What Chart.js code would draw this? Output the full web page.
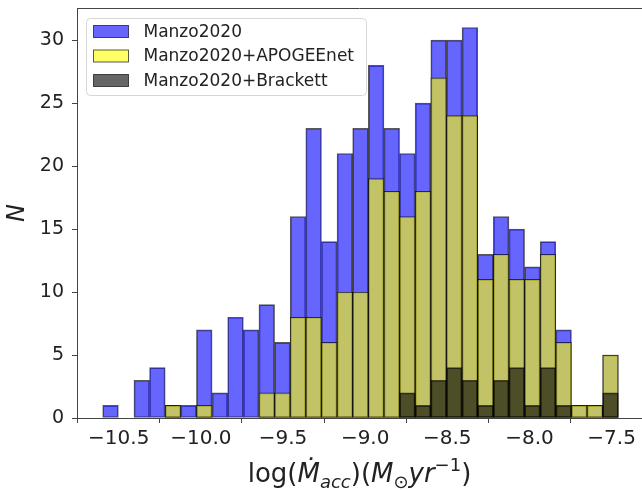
<!DOCTYPE html>
<html>
<head>
<meta charset="utf-8">
<script src="https://cdn.jsdelivr.net/npm/chart.js@4.4.0/dist/chart.umd.min.js"></script>
<style>
  html, body { margin: 0; padding: 0; background: #fff; }
  #chart { display: block; }
</style>
</head>
<body>
<canvas id="chart" width="642" height="491"></canvas>
<script>
// --- Données (histogramme, 33 classes) ---
const binCenters = [-10.5500, -10.4549, -10.3598, -10.2647, -10.1696, -10.0745, -9.9794, -9.8843, -9.7892, -9.6941,
                    -9.5990, -9.5039, -9.4088, -9.3137, -9.2186, -9.1235, -9.0284, -8.9333, -8.8382, -8.7431,
                    -8.6480, -8.5529, -8.4578, -8.3627, -8.2676, -8.1725, -8.0774, -7.9823, -7.8872, -7.7921,
                    -7.6970, -7.6019, -7.5068];
const manzo    = [1, 0, 3, 4, 1, 1, 7, 2, 8, 7, 9, 6, 16, 23, 14, 21, 23, 28, 23, 21, 25, 30, 30, 31, 13, 16, 15, 12, 14, 7, 1, 1, 5];
const apogee   = [0, 0, 0, 0, 1, 0, 1, 0, 0, 0, 2, 2, 8, 8, 6, 10, 10, 19, 18, 16, 18, 27, 24, 24, 11, 13, 11, 11, 13, 6, 1, 1, 5];
const brackett = [0, 0, 0, 0, 0, 0, 0, 0, 0, 0, 0, 0, 0, 0, 0, 0, 0, 0, 0, 2, 1, 3, 4, 3, 1, 3, 4, 1, 4, 1, 0, 0, 2];
const seriesLabels = ['Manzo2020', 'Manzo2020+APOGEEnet', 'Manzo2020+Brackett'];
const xTicks = [-10.5, -10.0, -9.5, -9.0, -8.5, -8.0, -7.5];
const yTicks = [0, 5, 10, 15, 20, 25, 30];

const FONT = '"DejaVu Sans", "Liberation Sans", sans-serif';
const AXIS_COLOR = '#444';

function toPoints(values) {
  return binCenters.map((x, i) => ({ x: x, y: values[i] }));
}

function histDataset(label, values, fill, order) {
  return {
    label: label,
    data: toPoints(values),
    backgroundColor: fill,
    borderColor: 'rgba(0,0,0,0.65)',
    borderWidth: 1,
    borderSkipped: false,
    grouped: false,
    barPercentage: 1,
    categoryPercentage: 1,
    order: order
  };
}

// --- Légende dans le cadre, titres d'axes et bordure du haut ---
const decorPlugin = {
  id: 'decor',
  afterDraw(chart) {
    const ctx = chart.ctx;
    const area = chart.chartArea;

    // bordure du haut
    ctx.save();
    ctx.strokeStyle = AXIS_COLOR;
    ctx.lineWidth = 1;
    ctx.beginPath();
    ctx.moveTo(area.left, area.top + 0.5);
    ctx.lineTo(area.right, area.top + 0.5);
    ctx.stroke();
    ctx.restore();

    // légende
    ctx.save();
    const lx = 86.5, ly = 18.5, lw = 280, lh = 77, r = 4;
    ctx.beginPath();
    ctx.moveTo(lx + r, ly);
    ctx.arcTo(lx + lw, ly, lx + lw, ly + lh, r);
    ctx.arcTo(lx + lw, ly + lh, lx, ly + lh, r);
    ctx.arcTo(lx, ly + lh, lx, ly, r);
    ctx.arcTo(lx, ly, lx + lw, ly, r);
    ctx.closePath();
    ctx.fillStyle = 'rgba(255,255,255,0.8)';
    ctx.fill();
    ctx.strokeStyle = '#d6d6d6';
    ctx.stroke();

    const rows = [31.5, 56, 80.5];
    chart.data.datasets.forEach((ds, i) => {
      const cy = rows[i];
      ctx.fillStyle = '#fff';
      ctx.fillRect(93.5, cy - 6, 35, 12);
      ctx.fillStyle = ds.backgroundColor;
      ctx.fillRect(93.5, cy - 6, 35, 12);
      ctx.strokeStyle = ds.borderColor;
      ctx.strokeRect(93.5, cy - 6, 35, 12);
      ctx.fillStyle = '#222';
      ctx.font = '17px ' + FONT;
      ctx.textAlign = 'left';
      ctx.textBaseline = 'middle';
      ctx.fillText(ds.label, 143.5, cy + 1);
    });
    ctx.restore();

    // titre de l'axe y
    ctx.save();
    ctx.translate(18, (area.top + area.bottom) / 2);
    ctx.rotate(-Math.PI / 2);
    ctx.font = 'italic 24px ' + FONT;
    ctx.fillStyle = '#222';
    ctx.textAlign = 'center';
    ctx.textBaseline = 'middle';
    ctx.fillText('N', 0, 0);
    ctx.restore();

    // titre de l'axe x : log(Ṁ_acc)(M_⊙ yr^-1)
    ctx.save();
    const fs = 26, small = Math.round(fs * 0.7);
    const reg = fs + 'px ' + FONT, ita = 'italic ' + fs + 'px ' + FONT;
    const subI = 'italic ' + small + 'px ' + FONT, sub = small + 'px ' + FONT;
    const parts = [
      { t: 'log(', f: reg, dy: 0 },
      { t: 'Ṁ', f: ita, dy: 0 },
      { t: 'acc', f: subI, dy: 6 },
      { t: ')(', f: reg, dy: 0 },
      { t: 'M', f: ita, dy: 0 },
      { t: '⊙', f: sub, dy: 6 },
      { t: 'yr', f: ita, dy: 0 },
      { t: '−1', f: sub, dy: -11 },
      { t: ')', f: reg, dy: 0 }
    ];
    let total = 0;
    parts.forEach(p => { ctx.font = p.f; p.w = ctx.measureText(p.t).width; total += p.w; });
    let x = (area.left + area.right) / 2 - total / 2;
    const base = 482;
    ctx.fillStyle = '#222';
    ctx.textBaseline = 'alphabetic';
    ctx.textAlign = 'left';
    parts.forEach(p => { ctx.font = p.f; ctx.fillText(p.t, x, base + p.dy); x += p.w; });
    ctx.restore();
  }
};

function initChart() {
  const ctx = document.getElementById('chart');
  new Chart(ctx, {
    type: 'bar',
    data: {
      datasets: [
        histDataset(seriesLabels[0], manzo, 'rgba(0,0,255,0.6)', 3),
        histDataset(seriesLabels[1], apogee, 'rgba(255,255,0,0.6)', 2),
        histDataset(seriesLabels[2], brackett, 'rgba(0,0,0,0.6)', 1)
      ]
    },
    options: {
      responsive: false,
      animation: false,
      devicePixelRatio: 1,
      layout: { padding: { top: 8, right: 0, left: 0, bottom: 0 } },
      plugins: { legend: { display: false }, tooltip: { enabled: false } },
      scales: {
        x: {
          type: 'linear',
          min: -10.754,
          max: -7.315,
          offset: false,
          afterBuildTicks: s => { s.ticks = xTicks.map(v => ({ value: v })); },
          afterFit: s => { s.height = 73; s.paddingLeft = 0; s.paddingRight = 0; },
          ticks: {
            color: '#222',
            font: { family: FONT, size: 20 },
            padding: 4,
            maxRotation: 0,
            callback: v => v.toFixed(1).replace('-', '−')
          },
          grid: { drawOnChartArea: false, drawTicks: true, tickLength: 5, color: AXIS_COLOR },
          border: { display: true, color: AXIS_COLOR, width: 1 }
        },
        y: {
          type: 'linear',
          min: 0,
          max: 32.55,
          afterBuildTicks: s => { s.ticks = yTicks.map(v => ({ value: v })); },
          afterFit: s => { s.width = 77; s.paddingTop = 0; s.paddingBottom = 0; },
          ticks: {
            color: '#222',
            font: { family: FONT, size: 19 },
            padding: 8,
            callback: v => String(v)
          },
          grid: { drawOnChartArea: false, drawTicks: true, tickLength: 5, color: AXIS_COLOR },
          border: { display: true, color: AXIS_COLOR, width: 1 }
        }
      }
    },
    plugins: [decorPlugin]
  });
}

initChart();
</script>
</body>
</html>
